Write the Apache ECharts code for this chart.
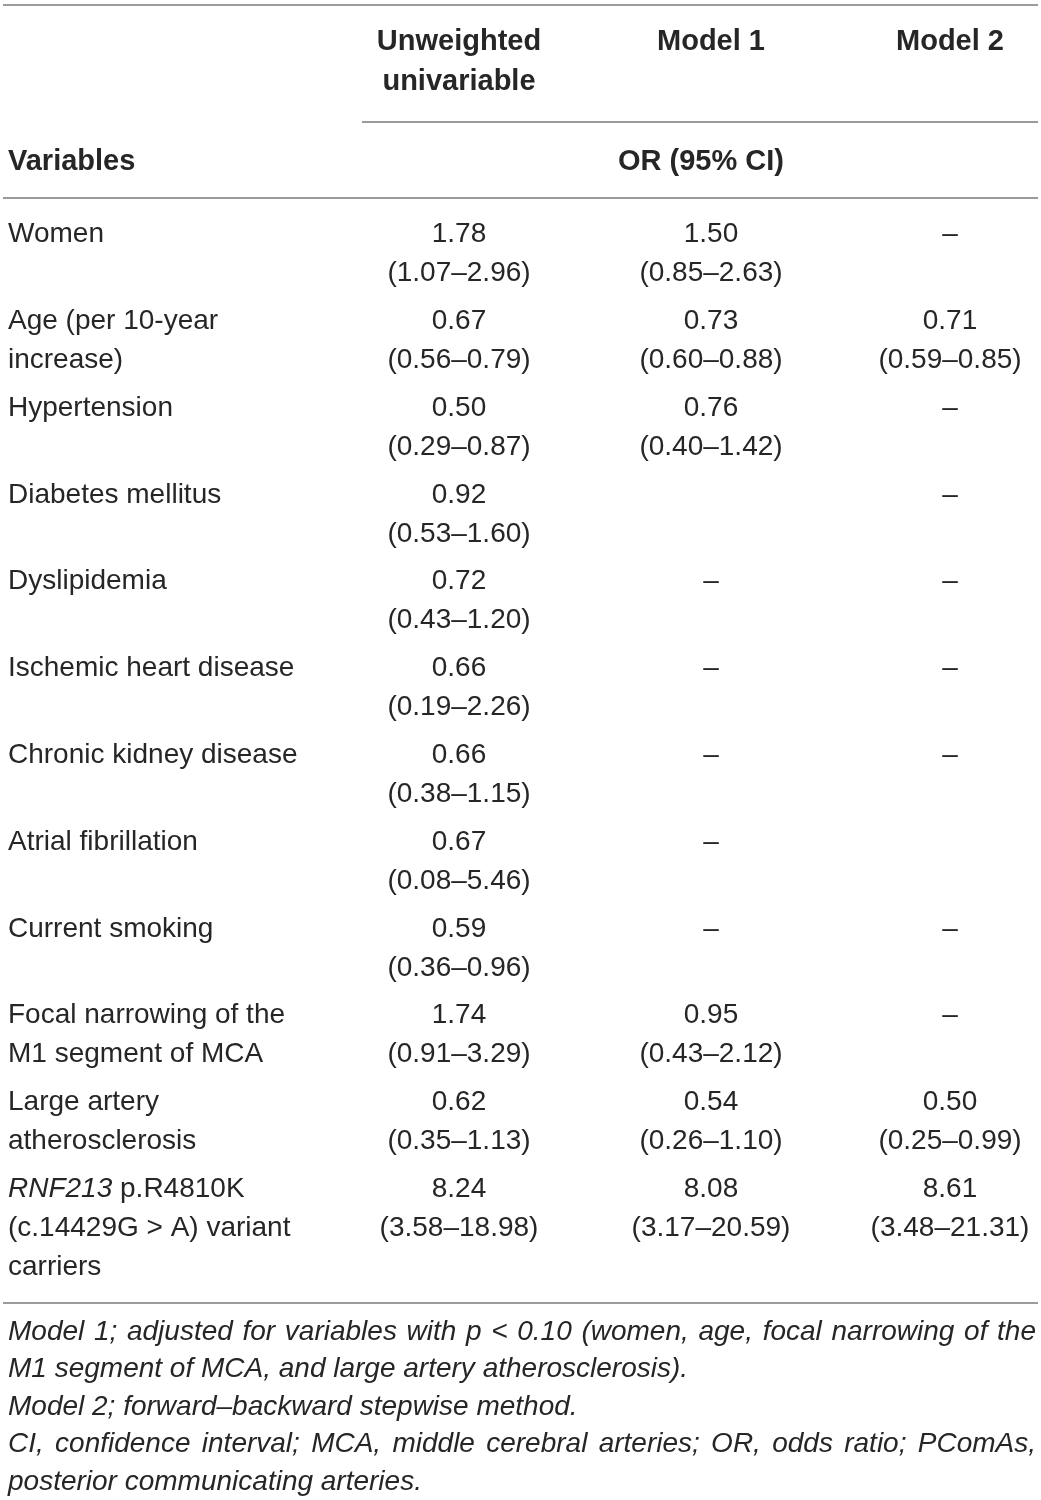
<!DOCTYPE html>
<html>
<head>
<meta charset="utf-8">
<script src="https://cdn.jsdelivr.net/npm/echarts@6/dist/echarts.min.js"></script>
<style>
  html, body { margin: 0; padding: 0; background: #fff; }
  #chart { width: 1041px; height: 1500px; }
</style>
</head>
<body>
<div id="chart"></div>
<script>
// ---------- data ----------
const columnHeaders = ['Unweighted\nunivariable', 'Model 1', 'Model 2'];
const spanHeader = 'OR (95% CI)';
const rowHeader = 'Variables';
const variables = [
  'Women',
  'Age (per 10-year\nincrease)',
  'Hypertension',
  'Diabetes mellitus',
  'Dyslipidemia',
  'Ischemic heart disease',
  'Chronic kidney disease',
  'Atrial fibrillation',
  'Current smoking',
  'Focal narrowing of the\nM1 segment of MCA',
  'Large artery\natherosclerosis',
  '{i|RNF213} p.R4810K\n(c.14429G > A) variant\ncarriers'
];
const unweightedOR = ['1.78', '0.67', '0.50', '0.92', '0.72', '0.66', '0.66', '0.67', '0.59', '1.74', '0.62', '8.24'];
const unweightedCI = ['(1.07–2.96)', '(0.56–0.79)', '(0.29–0.87)', '(0.53–1.60)', '(0.43–1.20)', '(0.19–2.26)',
  '(0.38–1.15)', '(0.08–5.46)', '(0.36–0.96)', '(0.91–3.29)', '(0.35–1.13)', '(3.58–18.98)'];
const model1OR = ['1.50', '0.73', '0.76', null, '–', '–', '–', '–', '–', '0.95', '0.54', '8.08'];
const model1CI = ['(0.85–2.63)', '(0.60–0.88)', '(0.40–1.42)', null, null, null, null, null, null,
  '(0.43–2.12)', '(0.26–1.10)', '(3.17–20.59)'];
const model2OR = ['–', '0.71', '–', '–', '–', '–', '–', null, '–', '–', '0.50', '8.61'];
const model2CI = [null, '(0.59–0.85)', null, null, null, null, null, null, null, null,
  '(0.25–0.99)', '(3.48–21.31)'];
const footnotes = [
  'Model 1; adjusted for variables with p < 0.10 (women, age, focal narrowing of the',
  'M1 segment of MCA, and large artery atherosclerosis).',
  'Model 2; forward–backward stepwise method.',
  'CI, confidence interval; MCA, middle cerebral arteries; OR, odds ratio; PComAs,',
  'posterior communicating arteries.'
];
const footnoteJustified = [true, false, false, true, false];

// ---------- layout / style ----------
const FONT = '"Liberation Sans", Arial, Helvetica, sans-serif';
const FS = 28;
const HFS = 29;
const TEXT = '#262626';
const RULE = '#9b9b9b';
const COL_X = [8, 459, 711, 950];
const LINE_H = 39;
const NOTE_LEFT = 8, NOTE_RIGHT = 1036, NOTE_TOP = 1313, NOTE_LH = 37.5;

const orCols = [unweightedOR, model1OR, model2OR];
const ciCols = [unweightedCI, model1CI, model2CI];

function cellText(c, r) {
  if (c === 0) return variables[r];
  const or = orCols[c - 1][r];
  const ci = ciCols[c - 1][r];
  if (or == null) return '';
  return ci ? or + '\n' + ci : or;
}

const cells = [];
for (let r = 0; r < variables.length; r++) {
  for (let c = 0; c < 4; c++) {
    cells.push([COL_X[c], r, c]);
  }
}

const baseStyle = { fontFamily: FONT, fontSize: FS, fill: TEXT };
const headStyle = { fontFamily: FONT, fontSize: HFS, fill: TEXT, fontWeight: 'bold', verticalAlign: 'top', lineHeight: 40 };

// footnote text elements (justified lines split into words)
const measureCtx = document.createElement('canvas').getContext('2d');
measureCtx.font = 'italic ' + FS + 'px ' + FONT;
const noteElements = [];
footnotes.forEach(function (line, i) {
  const y = NOTE_TOP + i * NOTE_LH;
  const st = { fontFamily: FONT, fontSize: FS, fill: TEXT, fontStyle: 'italic', align: 'left', verticalAlign: 'top', lineHeight: NOTE_LH };
  if (!footnoteJustified[i]) {
    noteElements.push({ type: 'text', x: NOTE_LEFT, y: y, style: Object.assign({ text: line }, st) });
    return;
  }
  const words = line.split(' ');
  const widths = words.map(function (w) { return measureCtx.measureText(w).width; });
  const total = widths.reduce(function (a, b) { return a + b; }, 0);
  const gap = (NOTE_RIGHT - NOTE_LEFT - total) / (words.length - 1);
  let x = NOTE_LEFT;
  words.forEach(function (w, k) {
    noteElements.push({ type: 'text', x: x, y: y, style: Object.assign({ text: w }, st) });
    x += widths[k] + gap;
  });
});

const chart = echarts.init(document.getElementById('chart'), null, { renderer: 'canvas' });

chart.setOption({
  backgroundColor: '#ffffff',
  animation: false,
  grid: { left: 0, right: 0, top: 197, height: 12 * 86.8 },
  xAxis: { type: 'value', min: 0, max: 1041, show: false },
  yAxis: { type: 'category', data: variables, inverse: true, show: false },
  series: [{
    type: 'custom',
    coordinateSystem: 'cartesian2d',
    encode: { x: 0, y: 1 },
    data: cells,
    silent: true,
    renderItem: function (params, api) {
      const x = api.value(0), r = api.value(1), c = api.value(2);
      const pt = api.coord([x, r]);
      const band = api.size([0, 1])[1];
      const top = pt[1] - band / 2;
      return {
        type: 'text',
        x: pt[0],
        y: top + 18,
        style: {
          text: cellText(c, r),
          fontFamily: FONT,
          fontSize: FS,
          fill: TEXT,
          align: c === 0 ? 'left' : 'center',
          verticalAlign: 'top',
          lineHeight: LINE_H,
          rich: {
            i: { fontFamily: FONT, fontSize: FS, fill: TEXT, fontStyle: 'italic', lineHeight: LINE_H }
          }
        }
      };
    }
  }],
  graphic: [
    // rules
    { type: 'line', shape: { x1: 3, y1: 5, x2: 1038, y2: 5 }, style: { stroke: RULE, lineWidth: 2 } },
    { type: 'line', shape: { x1: 362, y1: 122, x2: 1038, y2: 122 }, style: { stroke: RULE, lineWidth: 2 } },
    { type: 'line', shape: { x1: 3, y1: 198, x2: 1038, y2: 198 }, style: { stroke: RULE, lineWidth: 2 } },
    { type: 'line', shape: { x1: 3, y1: 1303, x2: 1038, y2: 1303 }, style: { stroke: RULE, lineWidth: 2 } },
    // header texts
    { type: 'text', x: COL_X[1], y: 22, style: Object.assign({ text: columnHeaders[0], align: 'center' }, headStyle) },
    { type: 'text', x: COL_X[2], y: 22, style: Object.assign({ text: columnHeaders[1], align: 'center' }, headStyle) },
    { type: 'text', x: COL_X[3], y: 22, style: Object.assign({ text: columnHeaders[2], align: 'center' }, headStyle) },
    { type: 'text', x: COL_X[0], y: 142, style: Object.assign({ text: rowHeader, align: 'left' }, headStyle) },
    { type: 'text', x: 701, y: 142, style: Object.assign({ text: spanHeader, align: 'center' }, headStyle) }
  ].concat(noteElements)
});
</script>
</body>
</html>
